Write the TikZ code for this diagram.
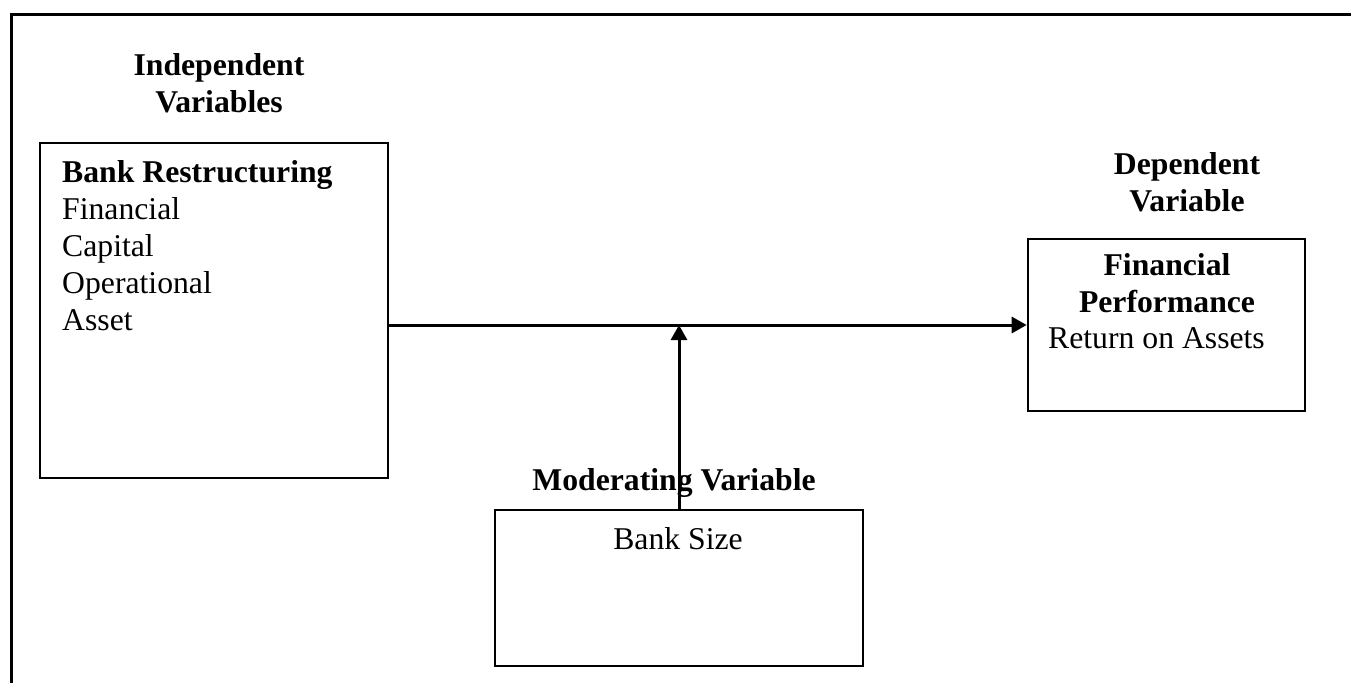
\documentclass[tikz,border=0pt]{standalone}
\usepackage{fontspec}
\setmainfont{Liberation Serif}
\usetikzlibrary{arrows.meta}
\tikzset{
  frameline/.style={line width=3pt},
  boxst/.style={draw, line width=2.6pt, inner sep=0pt},
  conn/.style={line width=3pt, -{Triangle[length=15pt,width=16pt]}},
  txt/.style={inner sep=0pt, font=\fontsize{31.7}{37}\selectfont},
  btxt/.style={txt, font=\fontsize{31.7}{37}\selectfont\bfseries},
}
\begin{document}
\begin{tikzpicture}[x=1pt,y=-1pt]
\useasboundingbox (0,0) rectangle (1351,683);
% outer frame (open at right and bottom)
\coordinate (fbl) at (11,683);
\coordinate (ftl) at (11,14);
\coordinate (ftr) at (1351,14);
\draw[frameline] (fbl) -- (ftl) -- (ftr);

% boxes
\node[boxst, minimum width=348pt, minimum height=335pt] (ind) at (214,310.5) {};
\node[boxst, minimum width=277pt, minimum height=172pt] (dep) at (1166.5,325) {};
\node[boxst, minimum width=368pt, minimum height=156pt] (mod) at (679,588) {};

% headings (base anchor = baseline of the last line)
\node[btxt, align=center, anchor=base] (indh) at (219,112) {Independent\\Variables};
\node[btxt, align=center, anchor=base] (deph) at (1187,211) {Dependent\\Variable};
\node[btxt, anchor=base] (modh) at (674,490) {Moderating Variable};

% box contents
\node[txt, align=left, anchor=base west] (indt) at (62,330) {\textbf{Bank Restructuring}\\Financial\\Capital\\Operational\\Asset};
\node[btxt, align=center, anchor=base] (dept) at (1167,312) {Financial\\Performance};
\node[txt, anchor=base west] (depr) at (1048,348) {Return on Assets};
\node[txt, anchor=base] (modt) at (678,549) {Bank Size};

% connectors
\draw[conn] (ind.east |- dep.west) -- (dep.west);
\draw[conn] (mod.north) -- (mod.north |- dep.west);
\end{tikzpicture}
\end{document}
